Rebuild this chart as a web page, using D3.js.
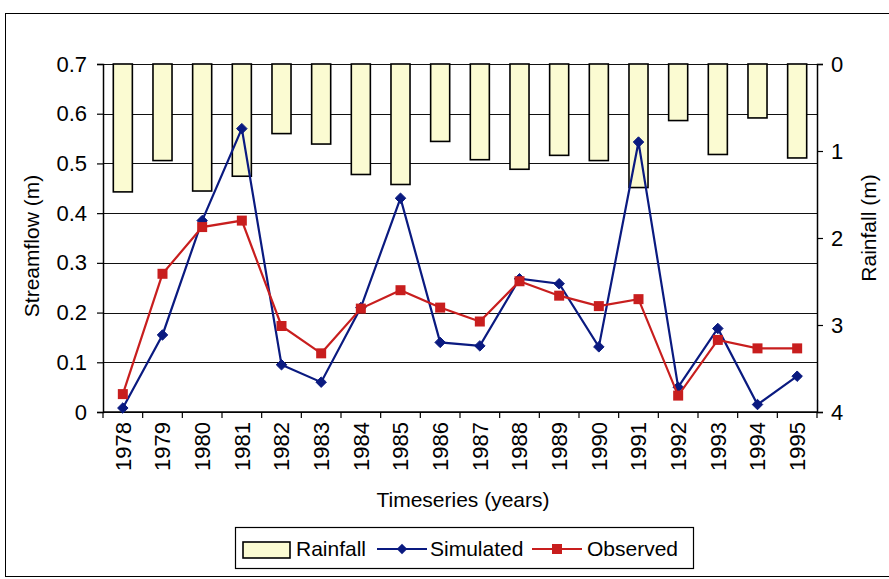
<!DOCTYPE html>
<html><head><meta charset="utf-8">
<script src="https://cdn.jsdelivr.net/npm/d3@7"></script>
<style>html,body{margin:0;padding:0;background:#fff;}svg{display:block;}</style>
</head><body>
<script>
const years = ["1978","1979","1980","1981","1982","1983","1984","1985","1986","1987","1988","1989","1990","1991","1992","1993","1994","1995"];
const rainfall = [1.47,1.11,1.46,1.29,0.80,0.92,1.27,1.385,0.89,1.10,1.21,1.05,1.11,1.42,0.65,1.04,0.62,1.08];
const simulated = [0.008,0.155,0.385,0.57,0.095,0.06,0.21,0.43,0.14,0.133,0.268,0.258,0.131,0.543,0.05,0.168,0.015,0.072];
const observed = [0.036,0.278,0.372,0.385,0.173,0.118,0.208,0.245,0.21,0.182,0.263,0.234,0.213,0.227,0.033,0.145,0.128,0.128];
const leftTicks = [0,0.1,0.2,0.3,0.4,0.5,0.6,0.7];
const rightTicks = [0,1,2,3,4];
const legendLabels = ["Rainfall","Simulated","Observed"];

const W = 889, H = 579;
const font = "'Liberation Sans', Arial, sans-serif";
const m = {left:103, right:817, top:64, bottom:412};
const simColor = "#0a1a80", obsColor = "#c81e1e", barFill = "#fbfbd2";

const svg = d3.select("body").append("svg").attr("width",W).attr("height",H)
  .style("font-family",font);

// outer frame
svg.append("rect").attr("x",5.5).attr("y",13.5).attr("width",900).attr("height",563)
  .attr("fill","none").attr("stroke","#000").attr("stroke-width",1);

const x = d3.scaleBand().domain(years).range([m.left,m.right]).paddingInner(0.52).paddingOuter(0.26);
const xc = d => x(d) + x.bandwidth()/2;
const yL = d3.scaleLinear().domain([0,0.7]).range([m.bottom,m.top]);
const yR = d3.scaleLinear().domain([0,4]).range([m.top,m.bottom]);

// gridlines
svg.append("g").selectAll("line").data(leftTicks).join("line")
  .attr("x1",m.left).attr("x2",m.right)
  .attr("y1",d=>Math.round(yL(d))+0.5).attr("y2",d=>Math.round(yL(d))+0.5)
  .attr("stroke","#111").attr("stroke-width",1);

// bars (rainfall hanging from top)
svg.append("g").selectAll("rect").data(rainfall).join("rect")
  .attr("x",(d,i)=>x(years[i]))
  .attr("y",yR(0))
  .attr("width",x.bandwidth())
  .attr("height",d=>yR(d)-yR(0))
  .attr("fill",barFill).attr("stroke","#000").attr("stroke-width",1.6);

// axes
const gL = svg.append("g").attr("transform",`translate(${m.left},0)`)
  .call(d3.axisLeft(yL).tickValues(leftTicks).tickSize(6).tickPadding(10).tickFormat(d=>d===0?"0":d3.format(".1f")(d)));
const gR = svg.append("g").attr("transform",`translate(${m.right},0)`)
  .call(d3.axisRight(yR).tickValues(rightTicks).tickSize(6).tickPadding(8).tickFormat(d3.format("d")));
const gB = svg.append("g").attr("transform",`translate(0,${m.bottom})`)
  .call(d3.axisBottom(x).tickSize(0).tickPadding(0));
[gL,gR,gB].forEach(g=>{
  g.select(".domain").attr("stroke","#000").attr("stroke-width",1.5);
  g.selectAll(".tick line").attr("stroke","#000").attr("stroke-width",1.2);
  g.selectAll("text").attr("font-family",font).attr("font-size",22).attr("fill","#000");
});
gB.select(".domain").attr("d",`M${m.left},0H${m.right}`);
gB.selectAll(".tick text")
  .attr("text-anchor","end")
  .attr("transform","translate(0,10) rotate(-90)")
  .attr("dx",0).attr("dy","0.35em").attr("y",0).attr("x",0);
// category separator ticks
svg.append("g").selectAll("line").data(d3.range(years.length+1)).join("line")
  .attr("x1",d=>m.left+d*(m.right-m.left)/years.length)
  .attr("x2",d=>m.left+d*(m.right-m.left)/years.length)
  .attr("y1",m.bottom).attr("y2",m.bottom+6)
  .attr("stroke","#000").attr("stroke-width",1.2);

// lines
const lineGen = d3.line().x((d,i)=>xc(years[i])).y(d=>yL(d));
svg.append("path").datum(simulated).attr("d",lineGen)
  .attr("fill","none").attr("stroke",simColor).attr("stroke-width",2.2);
const diamond = d3.symbol().type(d3.symbolDiamond2).size(70);
svg.append("g").selectAll("path").data(simulated).join("path")
  .attr("d",diamond)
  .attr("transform",(d,i)=>`translate(${xc(years[i])},${yL(d)})`)
  .attr("fill",simColor).attr("stroke",simColor).attr("stroke-width",1);

svg.append("path").datum(observed).attr("d",lineGen)
  .attr("fill","none").attr("stroke",obsColor).attr("stroke-width",2.2);
svg.append("g").selectAll("rect").data(observed).join("rect")
  .attr("x",(d,i)=>xc(years[i])-5).attr("y",d=>yL(d)-5)
  .attr("width",10).attr("height",10)
  .attr("fill",obsColor);

// axis titles
svg.append("text").attr("transform","translate(39,246) rotate(-90)")
  .attr("text-anchor","middle").attr("font-size",21).text("Streamflow (m)");
svg.append("text").attr("transform","translate(876,228) rotate(-90)")
  .attr("text-anchor","middle").attr("font-size",21).text("Rainfall (m)");
svg.append("text").attr("x",463).attr("y",507)
  .attr("text-anchor","middle").attr("font-size",21).text("Timeseries (years)");

// legend
const lg = svg.append("g");
lg.append("rect").attr("x",235.5).attr("y",527.5).attr("width",458).attr("height",41)
  .attr("fill","#fff").attr("stroke","#000").attr("stroke-width",1.2);
lg.append("rect").attr("x",243).attr("y",542).attr("width",47).attr("height",16)
  .attr("fill",barFill).attr("stroke","#000").attr("stroke-width",1.6);
lg.append("text").attr("x",296).attr("y",556).attr("font-size",21).text(legendLabels[0]);
lg.append("line").attr("x1",377).attr("x2",427).attr("y1",549).attr("y2",549)
  .attr("stroke",simColor).attr("stroke-width",2.2);
lg.append("path").attr("d",diamond).attr("transform","translate(402,549)").attr("fill",simColor);
lg.append("text").attr("x",430).attr("y",556).attr("font-size",21).text(legendLabels[1]);
lg.append("line").attr("x1",532).attr("x2",582).attr("y1",549).attr("y2",549)
  .attr("stroke",obsColor).attr("stroke-width",2.2);
lg.append("rect").attr("x",552).attr("y",544).attr("width",10).attr("height",10).attr("fill",obsColor);
lg.append("text").attr("x",587).attr("y",556).attr("font-size",21).text(legendLabels[2]);
</script>
</body></html>
